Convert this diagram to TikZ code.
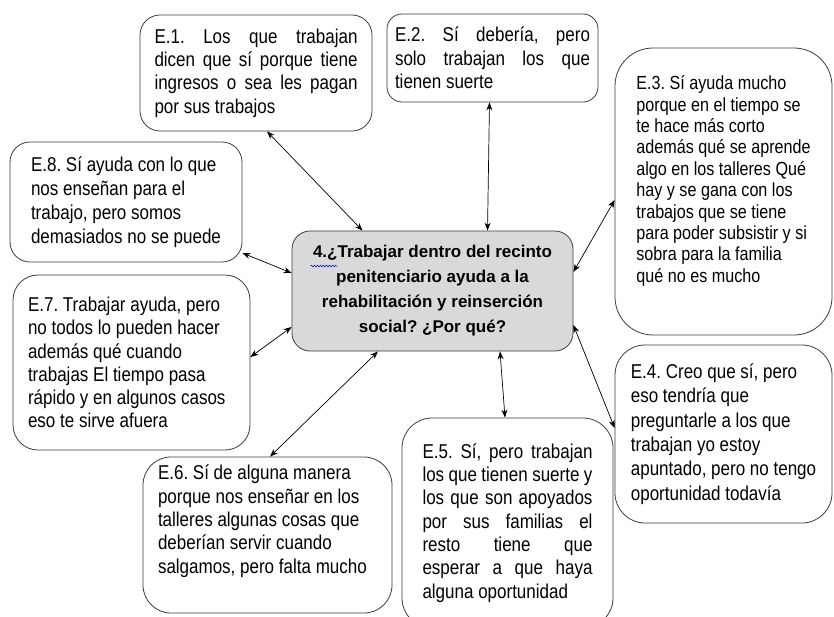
\documentclass[tikz,border=0pt]{standalone}
\usepackage{fontspec}
\setmainfont{Liberation Sans}[FakeStretch=0.85]
\newfontfamily\qfont{Liberation Sans}
\usetikzlibrary{arrows,arrows.meta,positioning,decorations.pathmorphing}
\definecolor{qgray}{RGB}{217,217,217}
\definecolor{boxline}{RGB}{60,60,60}
\frenchspacing

\begin{document}
\begin{tikzpicture}[x=1pt,y=-1pt,
    resp/.style={draw=boxline, line width=0.8pt, rounded corners=20pt, inner sep=0pt,
      align=flush left, font=\fontsize{20}{23.3}\selectfont\frenchspacing},
    just/.style={align=justify},
    link/.style={{Stealth[length=8pt,width=6pt]}-{Stealth[length=8pt,width=6pt]}, line width=0.7pt}]
      \useasboundingbox (0,0) rectangle (834,616);

      % pregunta central
      \node[resp, fill=qgray, rounded corners=18pt, minimum width=281pt, minimum height=120pt,
        align=center, font=\qfont\bfseries\fontsize{17}{25}\selectfont\frenchspacing] (q) at (432.5,291)
        {4.¿Trabajar dentro del recinto\\ penitenciario ayuda a la\\ rehabilitación y reinserción\\ social? ¿Por qué?};
      \draw[blue, line width=0.5pt, decorate, decoration={snake, amplitude=0.8pt, segment length=3pt}]
        ([xshift=-122pt,yshift=25pt]q.center) -- ++(27,0);

      % respuestas
      \node[resp, minimum width=232pt, minimum height=116pt, text width=203pt, just] (e1) at (256,73)
        {E.1. Los que trabajan\linebreak dicen que sí porque tiene\linebreak ingresos o sea les pagan\linebreak por sus trabajos};
      \node[resp, rounded corners=15pt, minimum width=211pt, minimum height=88pt, text width=195pt, just] (e2) at (492.5,58)
        {E.2. Sí debería, pero\linebreak solo trabajan los que\linebreak tienen suerte};
      \node[resp, rounded corners=38pt, minimum width=217pt, minimum height=287pt, text depth=25pt,
        font=\fontsize{19}{21.4}\selectfont\frenchspacing] (e3) at (723.5,191.5)
        {E.3. Sí ayuda mucho\\ porque en el tiempo se\\ te hace más corto\\ además qué se aprende\\ algo en los talleres Qué\\ hay y se gana con los\\ trabajos que se tiene\\ para poder subsistir y si\\ sobra para la familia\\ qué no es mucho};
      \node[resp, rounded corners=30pt, minimum width=217pt, minimum height=178pt,
        font=\fontsize{20}{24.3}\selectfont\frenchspacing] (e4) at (723.5,434)
        {E.4. Creo que sí, pero\\ eso tendría que\\ preguntarle a los que\\ trabajan yo estoy\\ apuntado, pero no tengo\\ oportunidad todavía};
      \node[resp, rounded corners=30pt, minimum width=211pt, minimum height=210pt, text width=170pt, just] (e5) at (507.5,523)
        {E.5. Sí, pero trabajan\linebreak los que tienen suerte y\linebreak los que son apoyados\linebreak por sus familias el\linebreak resto tiene que\linebreak esperar a que haya\linebreak alguna oportunidad};
      \node[resp, rounded corners=28pt, minimum width=249pt, minimum height=156pt, text width=219pt, text depth=125pt] (e6) at (267.5,535)
        {E.6. Sí de alguna manera\\ porque nos enseñar en los\\ talleres algunas cosas que\\ deberían servir cuando\\ salgamos, pero falta mucho};
      \node[resp, rounded corners=25pt, minimum width=237pt, minimum height=175pt, text width=207pt] (e7) at (131.5,362.5)
        {E.7. Trabajar ayuda, pero\\ no todos lo pueden hacer\\ además qué cuando\\ trabajas El tiempo pasa\\ rápido y en algunos casos\\ eso te sirve afuera};
      \node[resp, minimum width=232pt, minimum height=120pt,
        font=\fontsize{20}{24}\selectfont\frenchspacing] (e8) at (126,202)
        {E.8. Sí ayuda con lo que\\ nos enseñan para el\\ trabajo, pero somos\\ demasiados no se puede};

      % flechas
      \draw[link] ([xshift=11pt]e1.south) to ([xshift=-70pt]q.north);
      \draw[link] ([xshift=-3pt]e2.south) to ([xshift=55pt]q.north);
      \draw[link] ([yshift=-8.5pt]e3.west) to ([yshift=19pt]q.east);
      \draw[link] ([yshift=6pt]e4.west) to ([yshift=-34pt]q.east);
      \draw[link] ([xshift=-2.5pt]e5.north) to ([xshift=67.5pt]q.south);
      \draw[link] ([xshift=2.5pt]e6.north) to ([xshift=-54.5pt]q.south);
      \draw[link] ([yshift=5.5pt]e7.east) to ([yshift=-36pt]q.west);
      \draw[link] ([yshift=-51pt]e8.east) to ([yshift=18pt]q.west);
    \end{tikzpicture}
\end{document}
